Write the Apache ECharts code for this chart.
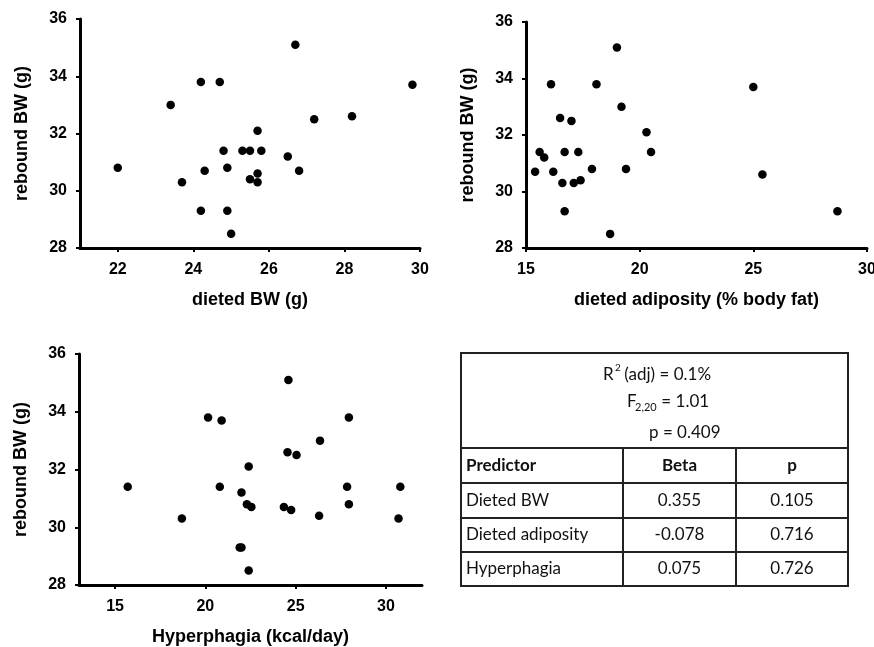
<!DOCTYPE html>
<html>
<head>
<meta charset="utf-8">
<script src="https://cdn.jsdelivr.net/npm/echarts@6/dist/echarts.min.js"></script>
<style>
html,body{margin:0;padding:0;background:#fff;}
#chart{width:874px;height:647px;}
</style>
</head>
<body>
<div id="chart"></div>
<script>
// ---- data ----
var dietedBW = [22.0, 23.4, 23.7, 24.2, 24.2, 24.3, 24.7, 24.8, 24.9, 24.9, 25.0, 25.3, 25.5, 25.5, 25.7, 25.7, 25.7, 25.8, 26.5, 26.7, 26.8, 27.2, 28.2, 29.8];
var reboundA = [30.8, 33.0, 30.3, 33.8, 29.3, 30.7, 33.8, 31.4, 30.8, 29.3, 28.5, 31.4, 31.4, 30.4, 32.1, 30.6, 30.3, 31.4, 31.2, 35.1, 30.7, 32.5, 32.6, 33.7];

var dietedAdiposity = [15.4, 15.6, 15.8, 16.1, 16.2, 16.5, 16.6, 16.7, 16.7, 17.0, 17.1, 17.3, 17.4, 17.9, 18.1, 18.7, 19.0, 19.2, 19.4, 20.3, 20.5, 25.0, 25.4, 28.7];
var reboundB = [30.7, 31.4, 31.2, 33.8, 30.7, 32.6, 30.3, 31.4, 29.3, 32.5, 30.3, 31.4, 30.4, 30.8, 33.8, 28.5, 35.1, 33.0, 30.8, 32.1, 31.4, 33.7, 30.6, 29.3];

var hyperphagia = [15.7, 18.7, 20.15, 20.9, 20.8, 22.0, 21.9, 22.0, 22.4, 22.3, 22.55, 22.4, 24.35, 24.6, 24.55, 24.75, 25.05, 26.35, 26.3, 27.95, 27.85, 27.95, 30.8, 30.7];
var reboundC = [31.4, 30.3, 33.8, 33.7, 31.4, 31.2, 29.3, 29.3, 32.1, 30.8, 30.7, 28.5, 30.7, 35.1, 32.6, 30.6, 32.5, 33.0, 30.4, 33.8, 31.4, 30.8, 31.4, 30.3];

var ticksBW = [22, 24, 26, 28, 30];
var ticksAdiposity = [15, 20, 25, 30];
var ticksHyper = [15, 20, 25, 30];
var ticksRebound = [28, 30, 32, 34, 36];

var xTitles = ['dieted BW (g)', 'dieted adiposity (% body fat)', 'Hyperphagia (kcal/day)'];
var yTitle = 'rebound BW (g)';

var tableHeader = ['Predictor', 'Beta', 'p'];
var predictors = ['Dieted BW', 'Dieted adiposity', 'Hyperphagia'];
var betas = ['0.355', '-0.078', '0.075'];
var pValues = ['0.105', '0.716', '0.726'];
var summaryR2 = ['R', '2', ' (adj) = 0.1%'];
var summaryF = ['F', '2,20', ' = 1.01'];
var summaryP = 'p = 0.409';

// ---- helpers ----
function zip(xs, ys) { return xs.map(function (x, i) { return [x, ys[i]]; }); }

var FONT = 'Liberation Sans, Arial, sans-serif';
var labelStyle = { fontFamily: FONT, fontWeight: 'bold', fontSize: 16, color: '#000' };
var nameStyle = { fontFamily: FONT, fontWeight: 'bold', fontSize: 18, color: '#000' };

function xAxisDef(idx, min, max, ticks, name) {
  return {
    type: 'value', gridIndex: idx, min: min, max: max,
    name: name, nameLocation: 'middle', nameGap: 43, nameTextStyle: nameStyle,
    axisLine: { show: true, onZero: false, lineStyle: { color: '#000', width: 3 } },
    axisTick: { show: true, length: 4, lineStyle: { color: '#000', width: 2 }, customValues: ticks },
    axisLabel: Object.assign({ margin: 14, customValues: ticks }, labelStyle),
    splitLine: { show: false }
  };
}
function yAxisDef(idx) {
  return {
    type: 'value', gridIndex: idx, min: 28, max: 36, interval: 2,
    name: yTitle, nameLocation: 'middle', nameGap: 49, nameTextStyle: nameStyle,
    axisLine: { show: true, onZero: false, lineStyle: { color: '#000', width: 3 } },
    axisTick: { show: true, length: 4, lineStyle: { color: '#000', width: 2 } },
    axisLabel: Object.assign({ margin: 13 }, labelStyle),
    splitLine: { show: false }
  };
}

// ---- table graphics ----
var TL = 461, TR = 848, TT = 353, TS = 448, TB = 586;
var rowLines = [TS, 483, 518, 552, TB];
var colX = [TL, 623, 736, TR];
var TFONT = 'Lato, "Open Sans", sans-serif';
var tcol = '#111';
var lineCol = '#222';
var g = [];
g.push({ type: 'rect', shape: { x: TL, y: TT, width: TR - TL, height: TB - TT }, style: { fill: 'none', stroke: lineCol, lineWidth: 2 } });
for (var i = 0; i < rowLines.length - 1; i++) {
  g.push({ type: 'line', shape: { x1: TL, y1: rowLines[i], x2: TR, y2: rowLines[i] }, style: { stroke: lineCol, lineWidth: 2 } });
}
[colX[1], colX[2]].forEach(function (cx) {
  g.push({ type: 'line', shape: { x1: cx, y1: TS, x2: cx, y2: TB }, style: { stroke: lineCol, lineWidth: 2 } });
});
function txt(x, y, s, size, weight, align, vAlign) {
  return { type: 'text', x: x, y: y, style: { text: s, fill: tcol, font: (weight || 'normal') + ' ' + size + 'px ' + TFONT, textAlign: align || 'left', textVerticalAlign: vAlign || 'middle' } };
}
// summary
g.push(txt(603, 375, summaryR2[0], 17));
g.push(txt(615, 368, summaryR2[1], 10));
g.push(txt(620, 375, summaryR2[2], 17));
g.push(txt(627, 402, summaryF[0], 17));
g.push(txt(635, 407, summaryF[1], 11));
g.push(txt(657, 402, summaryF[2], 17));
g.push(txt(649, 433, summaryP, 17));
// header
var headY = (TS + rowLines[1]) / 2;
g.push(txt(466, headY, tableHeader[0], 17, 'bold'));
g.push(txt((colX[1] + colX[2]) / 2, headY, tableHeader[1], 17, 'bold', 'center'));
g.push(txt((colX[2] + colX[3]) / 2, headY, tableHeader[2], 17, 'bold', 'center'));
for (var r = 0; r < predictors.length; r++) {
  var cy = (rowLines[r + 1] + rowLines[r + 2]) / 2;
  g.push(txt(466, cy, predictors[r], 17));
  g.push(txt((colX[1] + colX[2]) / 2, cy, betas[r], 17, 'normal', 'center'));
  g.push(txt((colX[2] + colX[3]) / 2, cy, pValues[r], 17, 'normal', 'center'));
}

var chart = echarts.init(document.getElementById('chart'), null, { renderer: 'canvas' });
var dot = { symbol: 'circle', symbolSize: 8.5, itemStyle: { color: '#000', opacity: 1 } };
chart.setOption({
  animation: false,
  backgroundColor: '#fff',
  grid: [
    { left: 80, top: 19, width: 340, height: 229, containLabel: false, outerBoundsMode: 'none' },
    { left: 526, top: 22, width: 341, height: 226, containLabel: false, outerBoundsMode: 'none' },
    { left: 79, top: 354, width: 343, height: 231, containLabel: false, outerBoundsMode: 'none' }
  ],
  xAxis: [
    xAxisDef(0, 21, 30, ticksBW, xTitles[0]),
    xAxisDef(1, 15, 30, ticksAdiposity, xTitles[1]),
    xAxisDef(2, 13, 32, ticksHyper, xTitles[2])
  ],
  yAxis: [yAxisDef(0), yAxisDef(1), yAxisDef(2)],
  series: [
    Object.assign({ type: 'scatter', xAxisIndex: 0, yAxisIndex: 0, data: zip(dietedBW, reboundA) }, dot),
    Object.assign({ type: 'scatter', xAxisIndex: 1, yAxisIndex: 1, data: zip(dietedAdiposity, reboundB) }, dot),
    Object.assign({ type: 'scatter', xAxisIndex: 2, yAxisIndex: 2, data: zip(hyperphagia, reboundC) }, dot)
  ],
  graphic: g
});
</script>
</body>
</html>
